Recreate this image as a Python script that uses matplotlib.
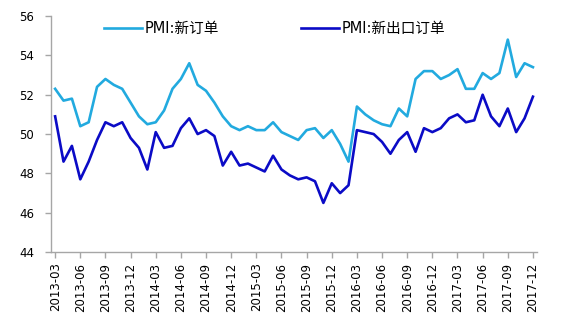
import matplotlib
matplotlib.use("Agg")
import matplotlib.pyplot as plt
import numpy as np

plt.rcParams['font.family'] = ['DejaVu Sans', 'Noto Sans CJK SC']

# monthly data 2013-03 .. 2017-12
months = []
for y in range(2013, 2018):
    for m in range(1, 13):
        if y == 2013 and m < 3:
            continue
        months.append("%d-%02d" % (y, m))

new_orders = [52.3, 51.7, 51.8, 50.4, 50.6, 52.4, 52.8, 52.5, 52.3, 51.6,
              50.9, 50.5, 50.6, 51.2, 52.3, 52.8, 53.6, 52.5, 52.2, 51.6,
              50.9, 50.4, 50.2, 50.4, 50.2, 50.2, 50.6, 50.1, 49.9, 49.7,
              50.2, 50.3, 49.8, 50.2, 49.5, 48.6, 51.4, 51.0, 50.7, 50.5,
              50.4, 51.3, 50.9, 52.8, 53.2, 53.2, 52.8, 53.0, 53.3, 52.3,
              52.3, 53.1, 52.8, 53.1, 54.8, 52.9, 53.6, 53.4]
new_export = [50.9, 48.6, 49.4, 47.7, 48.6, 49.7, 50.6, 50.4, 50.6, 49.8,
              49.3, 48.2, 50.1, 49.3, 49.4, 50.3, 50.8, 50.0, 50.2, 49.9,
              48.4, 49.1, 48.4, 48.5, 48.3, 48.1, 48.9, 48.2, 47.9, 47.7,
              47.8, 47.6, 46.5, 47.5, 47.0, 47.4, 50.2, 50.1, 50.0, 49.6,
              49.0, 49.7, 50.1, 49.1, 50.3, 50.1, 50.3, 50.8, 51.0, 50.6,
              50.7, 52.0, 50.9, 50.4, 51.3, 50.1, 50.8, 51.9]

x = np.arange(len(months))

fig = plt.figure(figsize=(5.66, 3.27), dpi=100)
ax = fig.add_axes([0.090, 0.229, 0.859, 0.722])

ax.plot(x, new_orders, color='#22AADF', lw=1.9, label='PMI:新订单')
ax.plot(x, new_export, color='#0B0BC6', lw=1.9, label='PMI:新出口订单')

ax.set_ylim(44, 56)
ax.set_yticks(range(44, 57, 2))
ax.set_xlim(-0.5, len(months) - 0.5)
ax.set_xticks(x[::3])
ax.set_xticklabels(months[::3], rotation=90)

for s in ['top', 'right']:
    ax.spines[s].set_visible(False)
for s in ['left', 'bottom']:
    ax.spines[s].set_color('#A6A6A6')
    ax.spines[s].set_linewidth(1.0)
ax.tick_params(axis='both', colors='#A6A6A6', labelcolor='black',
               labelsize=8.5, length=4, width=1.0)
ax.tick_params(axis='y', pad=8)

ax.legend(loc='upper center', bbox_to_anchor=(0.46, 1.035), ncol=2,
          frameon=False, fontsize=10.5, handlelength=2.6, columnspacing=5.6,
          handletextpad=0.2)

fig.savefig('out.png', dpi=100)
